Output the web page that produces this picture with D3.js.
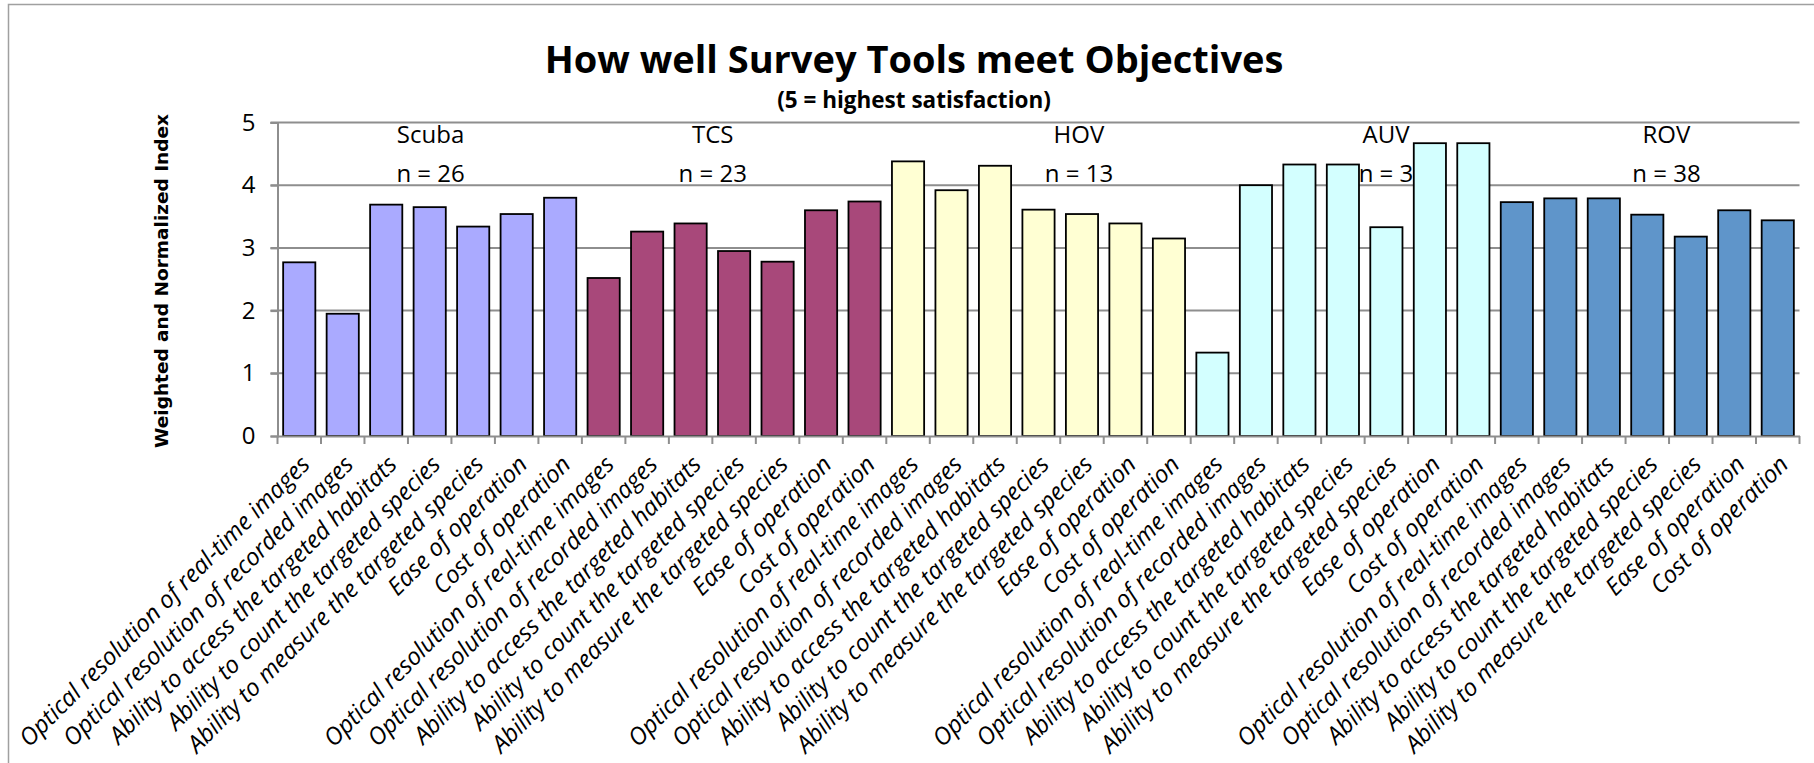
<!DOCTYPE html>
<html>
<head>
<meta charset="utf-8">
<script src="https://cdn.jsdelivr.net/npm/d3@7"></script>
<style>
  html, body { margin: 0; padding: 0; background: #fff; }
  svg { display: block; }
</style>
</head>
<body>
<svg id="chart" width="1814" height="763"></svg>
<script>
// ---------------- DATA ----------------
const tools = ["Scuba", "TCS", "HOV", "AUV", "ROV"];
const sampleSizes = ["n = 26", "n = 23", "n = 13", "n = 3", "n = 38"];
const objectives = [
  "Optical resolution of real-time images",
  "Optical resolution of recorded images",
  "Ability to access the targeted habitats",
  "Ability to count the targeted species",
  "Ability to measure the targeted species",
  "Ease of operation",
  "Cost of operation"
];
const scubaValues = [2.77, 1.95, 3.69, 3.65, 3.34, 3.54, 3.80];
const tcsValues   = [2.52, 3.26, 3.39, 2.95, 2.78, 3.60, 3.74];
const hovValues   = [4.38, 3.92, 4.31, 3.61, 3.54, 3.39, 3.15];
const auvValues   = [1.33, 4.00, 4.33, 4.33, 3.33, 4.67, 4.67];
const rovValues   = [3.73, 3.79, 3.79, 3.53, 3.18, 3.60, 3.44];
const yTicks = [0, 1, 2, 3, 4, 5];
const titleText = "How well Survey Tools meet Objectives";
const subtitleText = "(5 = highest satisfaction)";
const yAxisTitle = "Weighted and Normalized Index";

// ---------------- STYLE / LAYOUT ----------------
const toolColors = ["#AAAAFF", "#A8487A", "#FFFFD3", "#D3FFFF", "#5F95CA"];
// horizontal position of each group's annotation, in bands from the group's first bar
const groupLabelOffset = [3.52, 3.01, 4.43, 4.49, 3.94];
const FONT = "'Open Sans', Lato, sans-serif";

const allValues = [scubaValues, tcsValues, hovValues, auvValues, rovValues];
const rows = [];
tools.forEach((t, gi) => {
  objectives.forEach((o, oi) => {
    rows.push({ key: t + "|" + o, tool: t, gi, label: o, value: allValues[gi][oi] });
  });
});

const svg = d3.select("#chart");
const plot = { left: 277.5, right: 1799.5, top: 122.5, bottom: 436 };

const x = d3.scaleBand()
  .domain(rows.map(d => d.key))
  .range([plot.left, plot.right])
  .paddingInner(0.26)
  .paddingOuter(0.13);

const y = d3.scaleLinear().domain([0, 5]).range([plot.bottom, plot.top]);

// outer frame (top and left edges visible)
svg.append("path")
  .attr("d", `M8.5,763 L8.5,4.5 L1814,4.5`)
  .attr("fill", "none")
  .attr("stroke", "#A0A0A0")
  .attr("stroke-width", 1.5);

// gridlines
svg.append("g")
  .selectAll("line")
  .data(yTicks.filter(v => v > 0))
  .join("line")
  .attr("x1", plot.left - 7)
  .attr("x2", plot.right)
  .attr("y1", d => y(d))
  .attr("y2", d => y(d))
  .attr("stroke", "#8E8E8E")
  .attr("stroke-width", 2);

// title
svg.append("text")
  .attr("x", 914).attr("y", 73)
  .attr("text-anchor", "middle")
  .attr("font-family", FONT)
  .attr("font-weight", "bold")
  .attr("font-size", 38)
  .attr("fill", "#000")
  .text(titleText);

svg.append("text")
  .attr("x", 914).attr("y", 108)
  .attr("text-anchor", "middle")
  .attr("font-family", FONT)
  .attr("font-weight", "bold")
  .attr("font-size", 22.5)
  .attr("fill", "#000")
  .text(subtitleText);

// y-axis title
svg.append("text")
  .attr("transform", "translate(168,281) rotate(-90)")
  .attr("text-anchor", "middle")
  .attr("font-family", "'DejaVu Sans', Verdana, sans-serif")
  .attr("font-weight", "bold")
  .attr("font-size", 18.5)
  .attr("fill", "#000")
  .text(yAxisTitle);

// group annotations (drawn below bars so bars may overlap them)
const step = x.step();
const ann = svg.append("g")
  .attr("font-family", FONT)
  .attr("font-size", 24)
  .attr("fill", "#000")
  .attr("text-anchor", "middle");
tools.forEach((t, gi) => {
  const cx = plot.left + step * (gi * objectives.length + groupLabelOffset[gi]);
  ann.append("text").attr("x", cx).attr("y", 143).text(t);
  ann.append("text").attr("x", cx).attr("y", 182).text(sampleSizes[gi]);
});

// bars
svg.append("g")
  .selectAll("rect")
  .data(rows)
  .join("rect")
  .attr("x", d => x(d.key))
  .attr("width", x.bandwidth())
  .attr("y", d => y(d.value))
  .attr("height", d => y(0) - y(d.value))
  .attr("fill", d => toolColors[d.gi])
  .attr("stroke", "#000")
  .attr("stroke-width", 1.8);

// y axis
const yAxis = d3.axisLeft(y).tickValues(yTicks).tickSize(7).tickFormat(d3.format("d"));
const yg = svg.append("g")
  .attr("transform", `translate(${plot.left},0)`)
  .call(yAxis);
yg.select(".domain").attr("stroke", "#8E8E8E").attr("stroke-width", 2);
yg.selectAll(".tick line").attr("stroke", "#8E8E8E").attr("stroke-width", 2);
yg.selectAll(".tick text")
  .attr("x", -22)
  .attr("font-family", FONT)
  .attr("font-size", 24)
  .attr("fill", "#000");

// x axis
const xAxis = d3.axisBottom(x).tickSize(0).tickFormat(k => k.split("|")[1]);
const xg = svg.append("g")
  .attr("transform", `translate(0,${plot.bottom})`)
  .call(xAxis);
xg.select(".domain").attr("stroke", "#8E8E8E").attr("stroke-width", 2);
xg.selectAll(".tick line").remove();
xg.selectAll(".tick text")
  .attr("text-anchor", "end")
  .attr("font-family", FONT)
  .attr("font-style", "italic")
  .attr("font-size", 24)
  .attr("fill", "#000")
  .attr("dy", null)
  .attr("y", 0)
  .attr("transform", "translate(12,30) rotate(-45)");

// boundary tick marks between categories
const boundaries = d3.range(rows.length + 1).map(i => plot.left + i * step);
xg.append("g")
  .selectAll("line")
  .data(boundaries)
  .join("line")
  .attr("x1", d => d).attr("x2", d => d)
  .attr("y1", 0).attr("y2", 8)
  .attr("stroke", "#8E8E8E")
  .attr("stroke-width", 2);
</script>
</body>
</html>
